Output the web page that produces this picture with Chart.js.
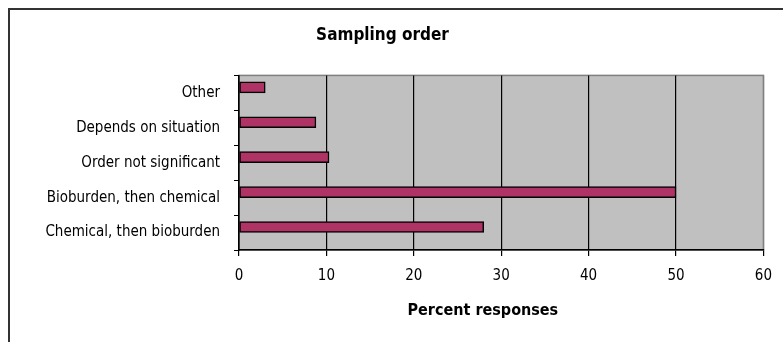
<!DOCTYPE html>
<html>
<head>
<meta charset="utf-8">
<script src="https://cdn.jsdelivr.net/npm/chart.js@4.4.0/dist/chart.umd.min.js"></script>
<style>
  html, body { margin: 0; padding: 0; background: #fff; overflow: hidden; }
  #wrap { position: relative; width: 783px; height: 342px; }
  #frame { position: absolute; left: 8px; top: 8px; width: 900px; height: 400px;
           border-left: 2px solid #333; border-top: 2px solid #333; }
  canvas { position: absolute; left: 0; top: 0; }
</style>
</head>
<body>
<div id="wrap">
  <div id="frame"></div>
  <canvas id="myChart" width="783" height="342"></canvas>
</div>
<script>
var labels = ['Other', 'Depends on situation', 'Order not significant', 'Bioburden, then chemical', 'Chemical, then bioburden']
var percents = [3, 8.8, 10.3, 50, 28]
var spacer = [null, null, null, null, null]
var xTicks = [0, 10, 20, 30, 40, 50, 60]

var fontName = '"Liberation Sans Narrow", "DejaVu Sans Condensed", "Arial Narrow", sans-serif'

// grey plot area with a grey frame, like the old Excel chart
var plotBack = {
    id: 'plotBack',
    beforeDraw: function(chart){
        var a = chart.chartArea
        var ctx = chart.ctx
        ctx.save()
        ctx.fillStyle = '#c0c0c0'
        ctx.fillRect(a.left, a.top, a.right - a.left, a.bottom - a.top)
        ctx.strokeStyle = '#808080'
        ctx.lineWidth = 1.5
        ctx.strokeRect(a.left, a.top, a.right - a.left, a.bottom - a.top)
        ctx.restore()
    },
    afterDraw: function(chart){
        var x = chart.scales.x
        var ctx = chart.ctx
        ctx.save()
        ctx.fillStyle = '#000'
        ctx.font = 'bold 16px ' + fontName
        ctx.textAlign = 'center'
        ctx.textBaseline = 'middle'
        ctx.fillText('Percent responses', x.left + (x.right - x.left) * 0.465, 311)
        ctx.restore()
    }
}

var ctx = document.getElementById('myChart').getContext('2d')
var myChart = new Chart(ctx, {
    type: 'bar',
    data: {
        labels: labels,
        datasets: [{
            data: percents,
            backgroundColor: '#b03366',
            borderColor: '#000',
            borderWidth: 1.5,
            borderSkipped: false,
            barThickness: 11
        }, {
            data: spacer,
            barThickness: 11
        }]
    },
    options: {
        indexAxis: 'y',
        responsive: false,
        animation: false,
        layout: { padding: { left: 0, right: 18, top: 0, bottom: 0 } },
        plugins: {
            legend: { display: false },
            tooltip: { enabled: false },
            title: {
                display: true,
                text: 'Sampling order',
                color: '#000',
                font: { family: fontName, size: 17, weight: 'bold' },
                padding: { top: 25, bottom: 30 }
            }
        },
        scales: {
            x: {
                min: 0,
                max: 60,
                afterBuildTicks: function(scale){
                    scale.ticks = xTicks.map(function(v){ return { value: v } })
                },
                afterFit: function(scale){ scale.height = 92 },
                ticks: {
                    color: '#000',
                    padding: 11,
                    font: { family: fontName, size: 15 }
                },
                grid: {
                    color: function(c){ return c.tick && c.tick.value === 60 ? '#808080' : '#000' },
                    tickColor: '#000',
                    tickLength: 6,
                    lineWidth: 1.2
                },
                border: { color: '#000', width: 1.5 }
            },
            y: {
                afterFit: function(scale){ scale.width = 239 },
                ticks: {
                    color: '#000',
                    padding: 14,
                    font: { family: fontName, size: 15 }
                },
                grid: {
                    offset: true,
                    drawOnChartArea: false,
                    tickColor: '#000',
                    tickLength: 5
                },
                border: { color: '#000', width: 1.5 }
            }
        }
    },
    plugins: [plotBack]
})
</script>
</body>
</html>
